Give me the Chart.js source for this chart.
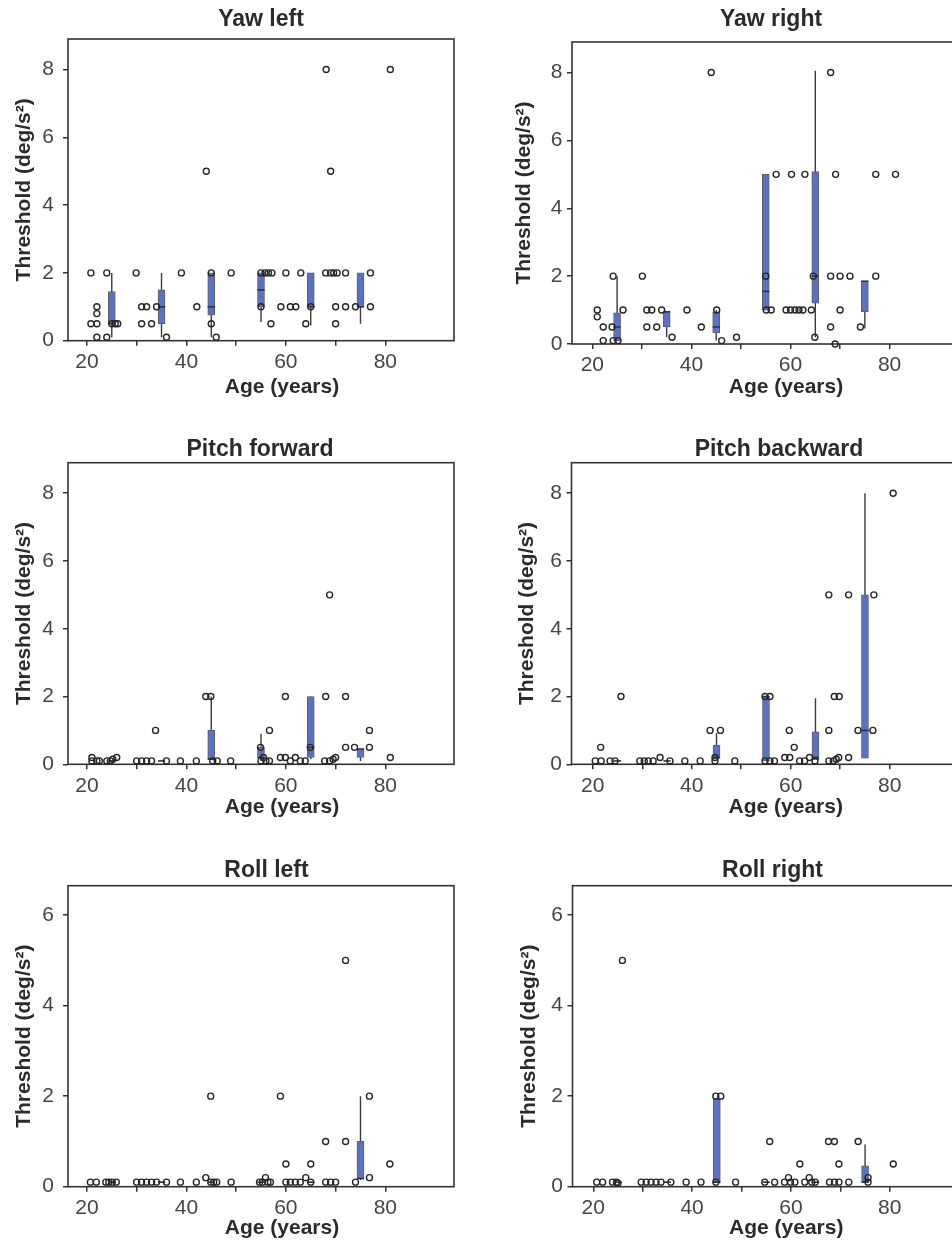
<!DOCTYPE html>
<html><head><meta charset="utf-8">
<script src="https://cdn.jsdelivr.net/npm/chart.js@4.4.1/dist/chart.umd.min.js"></script>
<style>
html,body{margin:0;padding:0;background:#fff;overflow:hidden;width:952px;height:1241px;position:relative}
canvas{position:absolute}
</style></head><body>
<script>
// ---------------- DATA ----------------
const boxAges = [25, 35, 45, 55, 65, 75];
const xTickValues = [20, 30, 40, 50, 60, 70, 80];
const yTicksTall = [0, 2, 4, 6, 8];
const yTicksShort = [0, 2, 4, 6];

// Yaw left
const yawLeftAge = [20.8,24,22,22,20.8,22,22,24,25,25.7,26.2, 29.9,31,32,31,33,34,36, 39,42.1,44,45,45,46,49, 55,55.8,56.5,57.2,55,57, 60,59,60.9,62,63,64,65, 68.1,69,68,69,69.6,70.3,70,70,72,72,74,77,77,81];
const yawLeftThr = [2,2,1,0.8,0.5,0.5,0.1,0.1,0.5,0.5,0.5, 2,1,1,0.5,0.5,1,0.1, 2,1,5,2,0.5,0.1,2, 2,2,2,2,1,0.5, 2,1,1,1,2,0.5,1, 8,5,2,2,2,2,1,0.5,2,1,1,2,1,8];
const yawLeftMin = [0.1,0.1,0.1,0.55,0.45,0.5];
const yawLeftQ1  = [0.5,0.5,0.75,1,1,1];
const yawLeftMed = [0.5,1,1,1.5,1,1];
const yawLeftQ3  = [1.45,1.5,2,2,2,2];
const yawLeftMax = [2,2,2,2,2,2];

// Yaw right
const yawRightAge = [21,21,22.2,22.2,24.2,24,24.2,25.2,26.2, 30.1,31,32,31,33,34,36.1,39.1,42,44,45.1,46.1,49.1, 55,55.1,56.1,57.1,60.2,62.9,59.1,60,60.9,61.7,62.5,64.2,64.6,64.9, 68.1,69.1,68.1,70,72,70,68.1,69,74.1,77.2,77.2,81.2];
const yawRightThr = [1,0.8,0.5,0.1,2,0.5,0.1,0.1,1, 2,1,1,0.5,0.5,1,0.2,1,0.5,8,1,0.1,0.2, 2,1,1,5,5,5,1,1,1,1,1,1,2,0.2, 8,5,2,2,2,1,0.5,0,0.5,5,2,5];
const yawRightMin = [0.1,0.2,0.1,1,0.2,0.46];
const yawRightQ1  = [0.1,0.5,0.33,1,1.2,0.95];
const yawRightMed = [0.5,0.95,0.5,1.55,2,1.85];
const yawRightQ3  = [0.92,0.95,0.95,5,5.08,1.85];
const yawRightMax = [2,0.95,1,5,8.05,1.85];

// Pitch forward
const pitchFwdAge = [21,21,22,22.5,24,24.7,25.2,26, 30,31,32,33,33.8,36,38.8,42, 43.9,44.9,45.3,46.2,48.9, 54.9,55,55.5,56,56.7,56.7, 59.9,58.9,59.9,60.9,61.9,62.9,63.9,64.9, 68,68.8,67.8,68.8,69.5,70,72,72,73.8,76.8,76.8,81];
const pitchFwdThr = [0.2,0.1,0.1,0.1,0.1,0.1,0.15,0.2, 0.1,0.1,0.1,0.1,1,0.1,0.1,0.1, 2,2,0.1,0.1,0.1, 0.5,0.1,0.2,0.1,0.1,1, 2,0.2,0.2,0.1,0.2,0.1,0.1,0.5, 2,5,0.1,0.1,0.15,0.2,2,0.5,0.5,0.5,1,0.2];
const pitchFwdMin = [0.1,0.1,0.15,0.1,0.15,0.1];
const pitchFwdQ1  = [0.1,0.1,0.15,0.2,0.2,0.2];
const pitchFwdMed = [0.1,0.1,0.15,0.2,0.5,0.45];
const pitchFwdQ3  = [0.1,0.1,1,0.5,2,0.45];
const pitchFwdMax = [0.1,0.1,2,0.9,2,0.45];

// Pitch backward
const pitchBwdAge = [20.5,21.6,21.7,23.5,24.5,25.7, 29.5,30.4,31.2,32.2,33.6,35.6,38.6,41.7, 43.7,45.8,44.7,44.7,48.7, 54.8,55.8,54.8,55.8,56.7, 58.8,59.8,59.7,60.7,61.8,62.8,63.8,64.9, 67.7,67.7,67.7,68.6,69.2,69.7,68.8,69.8, 71.7,71.7,73.6,76.6,76.8,80.7];
const pitchBwdThr = [0.1,0.5,0.1,0.1,0.1,2, 0.1,0.1,0.1,0.1,0.2,0.1,0.1,0.1, 1,1,0.2,0.1,0.1, 2,2,0.1,0.1,0.1, 0.2,0.2,1,0.5,0.1,0.1,0.2,0.1, 5,1,0.1,0.1,0.15,0.2,2,2, 5,0.2,1,1,5,8];
const pitchBwdMin = [0.1,0.1,0.18,0.1,0.13,0.18];
const pitchBwdQ1  = [0.1,0.1,0.18,0.1,0.13,0.18];
const pitchBwdMed = [0.1,0.1,0.2,2,0.2,1];
const pitchBwdQ3  = [0.1,0.1,0.57,2,0.96,5];
const pitchBwdMax = [0.1,0.1,0.92,2,1.95,8];

// Roll left
const rollLeftAge = [20.7,21.9,23.8,24.4,25.1,25.9, 30,31,32,33,34,36,38.8,42, 44.9,43.9,44.9,45.5,46.1,49, 54.7,55.3,55.9,56.4,56.9, 58.9,60,60,60.9,61.9,62.9,64,65,65, 68,68,69,70,72,72,74,76.8,76.8,80.9];
const rollLeftThr = [0.1,0.1,0.1,0.1,0.1,0.1, 0.1,0.1,0.1,0.1,0.1,0.1,0.1,0.1, 2,0.2,0.1,0.1,0.1,0.1, 0.1,0.1,0.2,0.1,0.1, 2,0.5,0.1,0.1,0.1,0.1,0.2,0.5,0.1, 1,0.1,0.1,0.1,5,1,0.1,2,0.2,0.5];
const rollLeftMin = [0.1,0.1,0.1,0.1,0.1,0.15];
const rollLeftQ1  = [0.1,0.1,0.1,0.1,0.1,0.18];
const rollLeftMed = [0.1,0.1,0.1,0.1,0.1,0.18];
const rollLeftQ3  = [0.1,0.1,0.1,0.1,0.1,1];
const rollLeftMax = [0.1,0.1,0.1,0.1,0.1,2];

// Roll right
const rollRightAge = [20.7,21.9,23.9,24.7,25,25.9, 29.7,30.7,31.7,32.7,33.7,35.7,38.8,41.8, 44.8,45.8,44.8,48.8, 54.7,55.7,56.7,58.7,59.5,59.9,60.8,61.8, 62.8,63.7,64.2,64.9,67.6,68.8,69.7,67.8,68.8,69.7,71.7,73.6,75.6,75.6,80.7];
const rollRightThr = [0.1,0.1,0.1,0.1,0.08,5, 0.1,0.1,0.1,0.1,0.1,0.1,0.1,0.1, 2,2,0.1,0.1, 0.1,1,0.1,0.1,0.2,0.1,0.1,0.5, 0.1,0.2,0.1,0.1,1,1,0.5,0.1,0.1,0.1,0.1,1,0.2,0.1,0.5];
const rollRightMin = [0.1,0.1,0.1,0.1,0.1,0.1];
const rollRightQ1  = [0.1,0.1,0.1,0.1,0.1,0.1];
const rollRightMed = [0.1,0.1,0.1,0.1,0.1,0.1];
const rollRightQ3  = [0.1,0.1,1.95,0.1,0.1,0.46];
const rollRightMax = [0.1,0.1,1.95,0.1,0.1,0.93];

// ---------------- LAYOUT / STYLE ----------------
const FONT = "'Liberation Sans', Arial, Helvetica, sans-serif";
const TEXT = '#2b2b2b';
const TICK_TEXT = '#454545';
const AXIS = '#333333';
const BOX_FILL = '#5a72c6';
const BOX_EDGE = '#5e5e5e';

const panels = [
  {title:'Yaw left', age:yawLeftAge, thr:yawLeftThr, mn:yawLeftMin, q1:yawLeftQ1, md:yawLeftMed, q3:yawLeftQ3, mx:yawLeftMax,
   yMax:8.9, yTicks:yTicksTall, xMin:16.2, xMax:93.8,
   lay:{cx:0, cy:0, W:522, H:400, L:68, R:454, B:340.7, tPt:7.8, tPb:8.2, yPad:9, ytPt:11.4, xtPb:0.2}},
  {title:'Yaw right', age:yawRightAge, thr:yawRightThr, mn:yawRightMin, q1:yawRightQ1, md:yawRightMed, q3:yawRightQ3, mx:yawRightMax,
   yMax:8.9, yTicks:yTicksTall, xMin:15.9, xMax:93.8,
   lay:{cx:480, cy:0, W:582, H:400, L:572, R:958, B:344, tPt:8.2, tPb:10.8, yPad:4.5, ytPt:31.4, xtPb:0.2}},
  {title:'Pitch forward', age:pitchFwdAge, thr:pitchFwdThr, mn:pitchFwdMin, q1:pitchFwdQ1, md:pitchFwdMed, q3:pitchFwdQ3, mx:pitchFwdMax,
   yMax:8.9, yTicks:yTicksTall, xMin:16.2, xMax:93.8,
   lay:{cx:0, cy:420, W:520, H:400, L:68, R:454, B:344.3, tPt:17.7, tPb:2.0, yPad:9, ytPt:11.4, xtPb:0.2}},
  {title:'Pitch backward', age:pitchBwdAge, thr:pitchBwdThr, mn:pitchBwdMin, q1:pitchBwdQ1, md:pitchBwdMed, q3:pitchBwdQ3, mx:pitchBwdMax,
   yMax:8.9, yTicks:yTicksTall, xMin:15.7, xMax:93.8,
   lay:{cx:480, cy:420, W:598, H:400, L:571.5, R:958, B:344.3, tPt:17.7, tPb:2.0, yPad:4.5, ytPt:34.9, xtPb:0.2}},
  {title:'Roll left', age:rollLeftAge, thr:rollLeftThr, mn:rollLeftMin, q1:rollLeftQ1, md:rollLeftMed, q3:rollLeftQ3, mx:rollLeftMax,
   yMax:6.65, yTicks:yTicksShort, xMin:16.2, xMax:93.8,
   lay:{cx:0, cy:845, W:533, H:396, L:68, R:454, B:341.7, tPt:14.3, tPb:3.4, yPad:9, ytPt:11.4, xtPb:0.2}},
  {title:'Roll right', age:rollRightAge, thr:rollRightThr, mn:rollRightMin, q1:rollRightQ1, md:rollRightMed, q3:rollRightQ3, mx:rollRightMax,
   yMax:6.65, yTicks:yTicksShort, xMin:15.8, xMax:93.8,
   lay:{cx:480, cy:845, W:585, H:396, L:572.5, R:958, B:341.7, tPt:14.3, tPb:3.4, yPad:4.5, ytPt:36.4, xtPb:0}}
];

const framePlugin = {
  id: 'frame',
  beforeDatasetsDraw(chart) {
    const {ctx, chartArea: a} = chart;
    ctx.save();
    ctx.strokeStyle = AXIS;
    ctx.lineWidth = 1.6;
    ctx.strokeRect(a.left, a.top, a.right - a.left, a.bottom - a.top);
    ctx.restore();
  }
};

function makePanel(p) {
  const s = p.lay;
  const c = document.createElement('canvas');
  c.width = s.W; c.height = s.H;
  c.style.left = s.cx + 'px'; c.style.top = s.cy + 'px';
  c.style.width = s.W + 'px'; c.style.height = s.H + 'px';
  document.body.appendChild(c);

  const pts = p.age.map((a, i) => ({x: a, y: p.thr[i]}));
  const boxes = boxAges.map((a, i) => ({x: a, y: [p.q1[i], p.q3[i]]}));
  const meds = boxAges.map((a, i) => ({x: a, y: p.md[i]}));
  const whisk = [];
  boxAges.forEach((a, i) => { whisk.push({x: a, y: p.mn[i]}, {x: a, y: p.mx[i]}, {x: a, y: null}); });

  new Chart(c, {
    type: 'bar',
    data: {
      datasets: [
        {type: 'scatter', data: pts, order: 0, pointStyle: 'circle', pointRadius: 3, pointBorderWidth: 1.4,
         pointBorderColor: '#262626', pointBackgroundColor: 'rgba(255,255,255,0)', clip: false},
        {type: 'scatter', data: meds, order: 1, pointStyle: 'line', pointRadius: 3.6, pointBorderWidth: 1.6,
         pointBorderColor: '#333', clip: false},
        {type: 'bar', data: boxes, order: 2, backgroundColor: BOX_FILL, borderColor: BOX_EDGE, borderWidth: 1,
         borderSkipped: false, barThickness: 7, grouped: false},
        {type: 'line', data: whisk, order: 3, borderColor: '#3c3c3c', borderWidth: 1.4, pointRadius: 0, spanGaps: false, fill: false}
      ]
    },
    options: {
      responsive: false, animation: false, devicePixelRatio: 1, events: [],
      layout: {padding: 0},
      plugins: {
        legend: {display: false}, tooltip: {enabled: false},
        title: {display: true, text: p.title, color: TEXT, fullSize: true,
          font: {family: FONT, size: 23, weight: 'bold', lineHeight: 1},
          padding: {top: s.tPt, bottom: s.tPb}}
      },
      scales: {
        x: {
          type: 'linear', position: 'bottom', min: p.xMin, max: p.xMax, offset: false,
          afterBuildTicks: sc => { sc.ticks = xTickValues.map(v => ({value: v})); },
          afterFit: sc => { sc.height = s.H - s.B; },
          ticks: {callback: v => (v % 20 === 0 ? String(v) : ''), color: TICK_TEXT, autoSkip: false, maxRotation: 0,
                  font: {family: FONT, size: 21}, padding: 4},
          grid: {display: true, drawOnChartArea: false, drawTicks: true, tickLength: 5, color: AXIS, lineWidth: 1.5, offset: false},
          border: {display: false},
          title: {display: true, text: '\u2003\u2003Age (years)', color: TEXT,
                  font: {family: FONT, size: 21, weight: 'bold', lineHeight: 1.2}, padding: {top: 0, bottom: s.xtPb}}
        },
        y: {
          type: 'linear', position: 'left', min: 0, max: p.yMax,
          afterBuildTicks: sc => { sc.ticks = p.yTicks.map(v => ({value: v})); },
          afterFit: sc => { sc.width = s.L - s.cx; },
          ticks: {color: TICK_TEXT, font: {family: FONT, size: 21}, padding: s.yPad},
          grid: {display: true, drawOnChartArea: false, drawTicks: true, tickLength: 5, color: AXIS, lineWidth: 1.5},
          border: {display: false},
          title: {display: true, text: 'Threshold (deg/s\u00B2)', color: TEXT,
                  font: {family: FONT, size: 21, weight: 'bold', lineHeight: 1.2}, padding: {top: s.ytPt, bottom: 0}}
        },
        yR: {
          type: 'linear', position: 'right', display: true,
          ticks: {display: false}, grid: {display: false}, border: {display: false},
          afterFit: sc => { sc.width = s.cx + s.W - s.R; }
        }
      }
    },
    plugins: [framePlugin]
  });
}

panels.forEach(makePanel);
</script>
</body></html>
